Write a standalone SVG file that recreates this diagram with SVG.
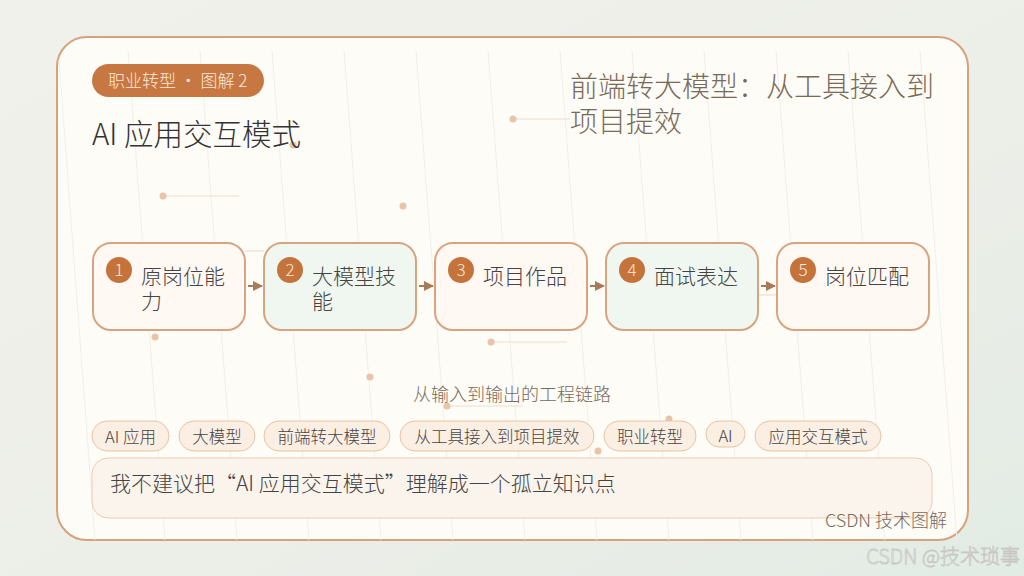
<svg xmlns="http://www.w3.org/2000/svg" width="1024" height="576" viewBox="0 0 1024 576">
<defs>
<linearGradient id="bg" x1="0" y1="0" x2="1" y2="1">
<stop offset="0" stop-color="#f1f1ec"/>
<stop offset="0.6" stop-color="#eceee8"/>
<stop offset="1" stop-color="#e2ece4"/>
</linearGradient>
<marker id="arr" viewBox="0 0 10 10" refX="9" refY="5" markerWidth="5" markerHeight="5" orient="auto">
<path d="M0,0 L10,5 L0,10 z" fill="#a87a58"/>
</marker>
<style>
text{font-family:"Noto Sans CJK SC","Noto Sans",sans-serif;font-weight:300}
.node{stroke:#d8a47f;stroke-width:2}
.warm{fill:#fff8f3}
.cool{fill:#eff7f0}
.badge{fill:#c4733b}
.num{fill:#fbe9dc;font-size:17px;text-anchor:middle}
.lbl{fill:#444;font-size:21px}
.tag rect{fill:#fbeee3;stroke:#e8c4a4;stroke-width:1}
.tag text{fill:#444;font-size:16.5px;text-anchor:middle}
.dot{fill:#e8c4a8}
.deco{stroke:#eedccd;stroke-width:1.2}
.stripe{stroke:#f1efe7;stroke-width:1}
.conn{stroke:#a87a58;stroke-width:2;marker-end:url(#arr)}
</style>
</defs>
<rect width="1024" height="576" fill="url(#bg)"/>
<rect x="57" y="37" width="911" height="503" rx="30" fill="#fdfcf7" stroke="#d6a27c" stroke-width="2"/>
<g id="stripes">
<line class="stripe" x1="59" y1="60" x2="95" y2="540"/>
<line class="stripe" x1="128" y1="50" x2="165" y2="540"/>
<line class="stripe" x1="200" y1="50" x2="237" y2="540"/>
<line class="stripe" x1="272" y1="50" x2="309" y2="540"/>
<line class="stripe" x1="344" y1="50" x2="381" y2="540"/>
<line class="stripe" x1="416" y1="50" x2="453" y2="540"/>
<line class="stripe" x1="488" y1="50" x2="525" y2="540"/>
<line class="stripe" x1="560" y1="50" x2="597" y2="540"/>
<line class="stripe" x1="632" y1="50" x2="669" y2="540"/>
<line class="stripe" x1="704" y1="50" x2="741" y2="540"/>
<line class="stripe" x1="776" y1="50" x2="813" y2="540"/>
<line class="stripe" x1="848" y1="50" x2="885" y2="540"/>
<line class="stripe" x1="920" y1="50" x2="957" y2="540"/>
</g>
<g id="decor">
<line class="deco" x1="163" y1="196" x2="239" y2="196"/>
<line class="deco" x1="513" y1="119" x2="570" y2="119"/>
<line class="deco" x1="491" y1="342" x2="567" y2="342"/>
<line class="deco" x1="447" y1="406" x2="523" y2="406"/>
<line class="deco" x1="245" y1="251" x2="264" y2="251"/>
<line class="deco" x1="758" y1="295" x2="777" y2="295"/>
<circle class="dot" cx="293" cy="145" r="3.5"/>
<circle class="dot" cx="163" cy="196" r="3.5"/>
<circle class="dot" cx="403" cy="206" r="3.5"/>
<circle class="dot" cx="513" cy="119" r="3.5"/>
<circle class="dot" cx="155" cy="337" r="3.5"/>
<circle class="dot" cx="491" cy="342" r="3.5"/>
<circle class="dot" cx="370" cy="377" r="3.5"/>
<circle class="dot" cx="447" cy="406" r="3.5"/>
<circle class="dot" cx="669" cy="419" r="3.5"/>
<circle class="dot" cx="598" cy="451" r="3.5"/>
</g>
<g id="header">
<rect x="92" y="64" width="172" height="33" rx="16.5" fill="#c77842"/>
<text x="108" y="87" font-size="17" fill="#fbe9dc">职业转型 · 图解 2</text>
<text x="92" y="145" font-size="29.5" fill="#333">AI 应用交互模式</text>
<text x="570" y="97" font-size="28" fill="#7a6a5a">前端转大模型：从工具接入到</text>
<text x="570" y="132" font-size="28" fill="#7a6a5a">项目提效</text>
</g>
<g id="connectors">
<line class="conn" x1="248" y1="286" x2="262" y2="286"/>
<line class="conn" x1="419" y1="286" x2="433" y2="286"/>
<line class="conn" x1="590" y1="286" x2="604" y2="286"/>
<line class="conn" x1="761" y1="286" x2="775" y2="286"/>
</g>
<g id="node1">
<rect class="node warm" x="93" y="243" width="152" height="87" rx="18"/>
<circle class="badge" cx="119" cy="270" r="13"/>
<text class="num" x="119" y="276">1</text>
<text class="lbl" x="141" y="284">原岗位能</text>
<text class="lbl" x="141" y="309">力</text>
</g>
<g id="node2">
<rect class="node cool" x="264" y="243" width="152" height="87" rx="18"/>
<circle class="badge" cx="290" cy="270" r="13"/>
<text class="num" x="290" y="276">2</text>
<text class="lbl" x="312" y="284">大模型技</text>
<text class="lbl" x="312" y="309">能</text>
</g>
<g id="node3">
<rect class="node warm" x="435" y="243" width="152" height="87" rx="18"/>
<circle class="badge" cx="461" cy="270" r="13"/>
<text class="num" x="461" y="276">3</text>
<text class="lbl" x="483" y="284">项目作品</text>
</g>
<g id="node4">
<rect class="node cool" x="606" y="243" width="152" height="87" rx="18"/>
<circle class="badge" cx="632" cy="270" r="13"/>
<text class="num" x="632" y="276">4</text>
<text class="lbl" x="654" y="284">面试表达</text>
</g>
<g id="node5">
<rect class="node warm" x="777" y="243" width="152" height="87" rx="18"/>
<circle class="badge" cx="803" cy="270" r="13"/>
<text class="num" x="803" y="276">5</text>
<text class="lbl" x="825" y="284">岗位匹配</text>
</g>
<text x="512" y="401" font-size="18" fill="#7a6a5a" text-anchor="middle">从输入到输出的工程链路</text>
<g id="tags">
<g class="tag"><rect x="92" y="421" width="77" height="30" rx="15"/><text x="130.5" y="443">AI 应用</text></g>
<g class="tag"><rect x="179" y="421" width="76" height="30" rx="15"/><text x="217" y="443">大模型</text></g>
<g class="tag"><rect x="264" y="421" width="126" height="30" rx="15"/><text x="327" y="443">前端转大模型</text></g>
<g class="tag"><rect x="400" y="421" width="194" height="30" rx="15"/><text x="497" y="443">从工具接入到项目提效</text></g>
<g class="tag"><rect x="604" y="421" width="92" height="30" rx="15"/><text x="650" y="443">职业转型</text></g>
<g class="tag"><rect x="706" y="421" width="39" height="26" rx="13"/><text x="725.5" y="442">AI</text></g>
<g class="tag"><rect x="755" y="421" width="126" height="30" rx="15"/><text x="818" y="443">应用交互模式</text></g>
</g>
<g id="quote">
<rect x="92" y="458" width="840" height="60" rx="16" fill="#fbf4ec" stroke="#eccdb3" stroke-width="1"/>
<text x="110" y="491" font-size="21" fill="#444">我不建议把“AI 应用交互模式”理解成一个孤立知识点</text>
</g>
<text x="947" y="527" font-size="18" fill="#7a6a5a" text-anchor="end">CSDN 技术图解</text>
<text x="1020" y="564" font-size="20" fill="#ffffff" stroke="#c6c8c4" stroke-width="0.8" text-anchor="end" font-family="Liberation Sans,Noto Sans CJK SC,sans-serif">CSDN @技术琐事</text>
</svg>
